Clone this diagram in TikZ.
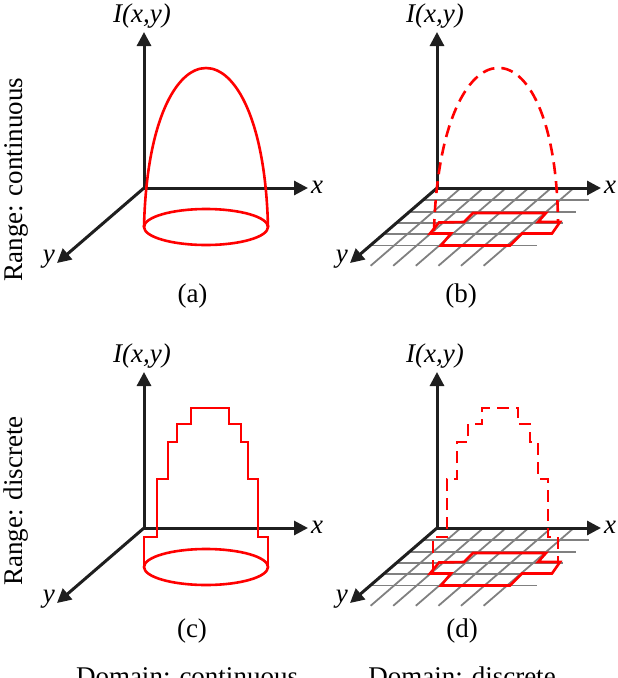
\documentclass[tikz,border=0pt]{standalone}
\usepackage{fontspec}
\setmainfont{Liberation Serif}
\usetikzlibrary{arrows.meta}
\usetikzlibrary{calc}

\begin{document}
\begin{tikzpicture}[x=1pt,y=-1pt,>={Triangle[length=14pt,width=14pt]}]
	\tikzset{axis/.style = {->, line width=3pt, draw=black!88}}
	\tikzset{curve/.style = {draw=red, line width=2.6pt}}
	\tikzset{dashcurve/.style = {curve, dash pattern=on 12pt off 7pt}}
	\tikzset{gridline/.style = {draw=gray, line width=1.8pt}}
	\tikzset{lbl/.style = {inner sep=0pt, font=\fontsize{27}{32}\selectfont}}
	\useasboundingbox (0,0) rectangle (618,678);
	
	\foreach \p/\oy in {B/188, D/528}{
		\coordinate (G\p) at (437,\oy+1);
		\foreach \k in {1,...,5}
			\draw[gridline] ($(G\p)+\k*(-13.1,11.3)$) -- ++(165,0);
		\foreach \j in {1,...,6}
			\draw[gridline] ($(G\p)+\j*(22.6,0)$) -- ++(-89,76.8);
	}
	
	\foreach \p/\ox/\oy in {A/144/188, B/437/188, C/144/528, D/437/528}{
		\coordinate (O\p) at (\ox,\oy);
		\coordinate (Z\p) at ($(O\p)+(0,-156)$);
		\coordinate (X\p) at ($(O\p)+(164,0)$);
		\coordinate (Y\p) at ($(O\p)+(-87,75)$);
		\draw[axis, <->] (Z\p) -- (O\p) -- (X\p);
		\draw[axis] (O\p) -- (Y\p);
		\node[lbl, anchor=base] (I\p) at ($(O\p)+(-2,-166)$) {\textit{I(x,y)}};
		\node[lbl, anchor=base west] (XL\p) at ($(O\p)+(167,5)$) {\textit{x}};
		\node[lbl, anchor=base east] (YL\p) at ($(O\p)+(-89,74)$) {\textit{y}};
	}
	
	\begin{scope}[shift={(OA)}]
		\draw[curve] (0,39) .. controls (5,-173) and (119,-173) .. (124,39);
		\draw[curve] (62,39) ellipse [x radius=62, y radius=18];
	\end{scope}
	
	\begin{scope}[shift={(OB)}]
		\draw[curve] (36,25) -- (109,25) -- (101,34) -- (123,34) -- (115,45.5) -- (85,45.5)
			-- (73,57.5) -- (4,57.5) -- (14,45.5) -- (-7,45.5) -- (2,34.5) -- (27,34) -- cycle;
		\draw[dashcurve] (-3,43) .. controls (3,-173) and (119,-173) .. (121,34);
	\end{scope}
	
	\begin{scope}[shift={(OC)}]
		\draw[curve] (0,39) -- (0,9) -- (13,9) -- (13,-49) -- (24,-49) -- (24,-86) -- (33,-86)
			-- (33,-104) -- (47,-104) -- (47,-120) -- (85,-120) -- (85,-104) -- (97,-104)
			-- (97,-86) -- (104,-86) -- (104,-49) -- (114,-49) -- (114,9) -- (124,9) -- (124,39);
		\draw[curve] (62,39) ellipse [x radius=62, y radius=18];
	\end{scope}
	
	\begin{scope}[shift={(OD)}]
		\draw[curve] (36,25) -- (109,25) -- (101,34) -- (123,34) -- (115,45.5) -- (85,45.5)
			-- (73,57.5) -- (4,57.5) -- (14,45.5) -- (-7,45.5) -- (2,34.5) -- (27,34) -- cycle;
		\draw[dashcurve] (-4,44) -- (-4,9) -- (10,9) -- (10,-49) -- (20,-49) -- (20,-86) -- (31,-86)
			-- (31,-104) -- (45,-104) -- (45,-120) -- (81,-120) -- (81,-104) -- (93,-104)
			-- (93,-86) -- (101,-86) -- (101,-49) -- (111,-49) -- (111,9) -- (121,9) -- (121,35);
	\end{scope}
	
	\node[lbl, anchor=base] (CAPA) at (192.5,302) {(a)};
	\node[lbl, anchor=base] (CAPB) at (461,302) {(b)};
	\node[lbl, anchor=base] (CAPC) at (192,637) {(c)};
	\node[lbl, anchor=base] (CAPD) at (462,637) {(d)};
	\node[lbl, anchor=base, rotate=90] (RNGC) at (23,179.5) {Range: continuous};
	\node[lbl, anchor=base, rotate=90] (RNGD) at (22,501) {Range: discrete};
	\node[lbl, anchor=base] (DOMC) at (187,685) {Domain: continuous};
	\node[lbl, anchor=base] (DOMD) at (462,685) {Domain: discrete};
\end{tikzpicture}
\end{document}
